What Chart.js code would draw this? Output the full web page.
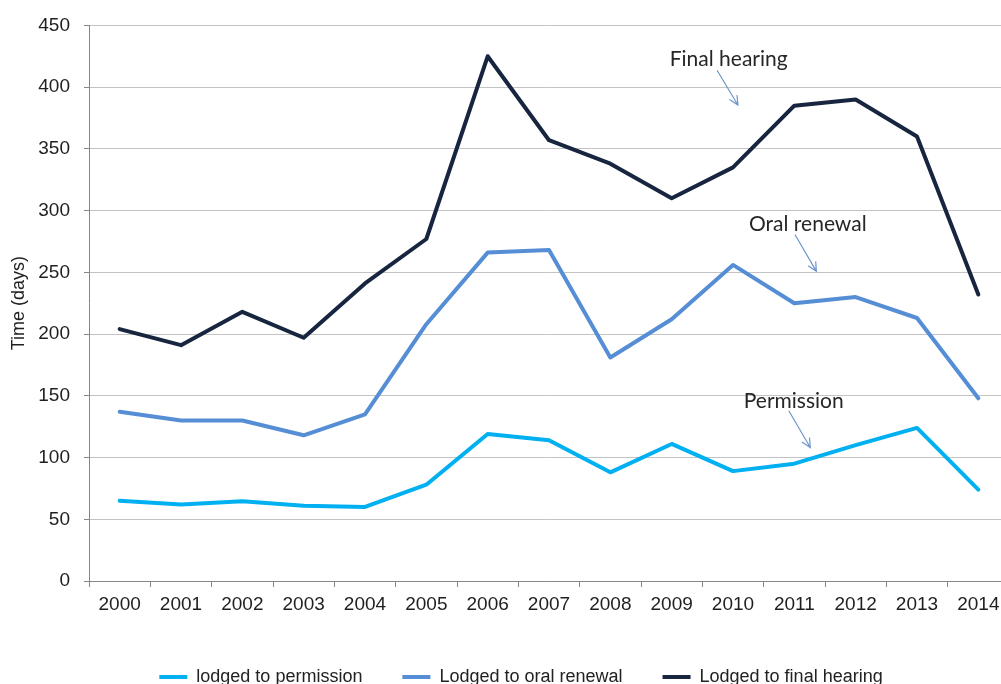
<!DOCTYPE html>
<html>
<head>
<meta charset="utf-8">
<script src="https://cdn.jsdelivr.net/npm/chart.js@4.4.1/dist/chart.umd.min.js"></script>
<style>
  html, body { margin: 0; padding: 0; background: #ffffff; overflow: hidden; }
  #wrap { width: 1015px; height: 700px; }
</style>
</head>
<body>
<div id="wrap"><canvas id="c" width="1015" height="700"></canvas></div>
<script>
// ---- data ----
const categories = ['2000','2001','2002','2003','2004','2005','2006','2007','2008','2009','2010','2011','2012','2013','2014'];
const lodgedToPermission = [65, 62, 64.5, 61, 60, 78, 119, 114, 88, 111, 89, 95, 110, 124, 74];
const lodgedToOralRenewal = [137, 130, 130, 118, 135, 208, 266, 268, 181, 212, 256, 225, 230, 213, 148];
const lodgedToFinalHearing = [204, 191, 218, 197, 241, 277, 425, 357, 338, 310, 335, 385, 390, 360, 232];
const seriesNames = ['lodged to permission', 'Lodged to oral renewal', 'Lodged to final hearing'];
const yTickValues = [0, 50, 100, 150, 200, 250, 300, 350, 400, 450];
const yTitle = 'Time (days)';

// annotation labels (positions in data units: category index, value)
const annLabels = ['Final hearing', 'Oral renewal', 'Permission'];
const annX = [9.93, 11.22, 10.99];
const annY = [422.6, 288.7, 146];
const arrowFromX = [9.74, 11.01, 10.91];
const arrowFromY = [413.7, 280.6, 137.9];
const arrowToX = [10.08, 11.36, 11.26];
const arrowToY = [385.5, 250.8, 108.1];

const colors = ['#00b0f0', '#558ed5', '#17253f'];
const FONT = "'Liberation Sans', Arial, sans-serif";

const annotationPlugin = {
  id: 'annotations',
  afterDatasetsDraw(chart) {
    const {ctx, scales: {x, y}} = chart;
    ctx.save();
    ctx.font = "21px Lato, 'Open Sans', sans-serif";
    ctx.fillStyle = '#262626';
    ctx.textAlign = 'center';
    ctx.textBaseline = 'middle';
    annLabels.forEach((t, i) => {
      ctx.fillText(t, x.getPixelForValue(annX[i]), y.getPixelForValue(annY[i]));
    });
    ctx.strokeStyle = '#6f95cc';
    ctx.lineWidth = 1.2;
    annLabels.forEach((t, i) => {
      const x1 = x.getPixelForValue(arrowFromX[i]), y1 = y.getPixelForValue(arrowFromY[i]);
      const x2 = x.getPixelForValue(arrowToX[i]), y2 = y.getPixelForValue(arrowToY[i]);
      ctx.beginPath();
      ctx.moveTo(x1, y1); ctx.lineTo(x2, y2);
      const a = Math.atan2(y2 - y1, x2 - x1);
      const L = 10, s = 0.45;
      ctx.moveTo(x2 - L * Math.cos(a - s), y2 - L * Math.sin(a - s));
      ctx.lineTo(x2, y2);
      ctx.lineTo(x2 - L * Math.cos(a + s), y2 - L * Math.sin(a + s));
      ctx.stroke();
    });
    ctx.restore();
  }
};

const seriesData = [lodgedToPermission, lodgedToOralRenewal, lodgedToFinalHearing];

new Chart(document.getElementById('c'), {
  type: 'line',
  data: {
    labels: categories,
    datasets: seriesData.map((d, i) => ({
      label: seriesNames[i],
      data: d,
      borderColor: colors[i],
      backgroundColor: colors[i],
      borderWidth: 4,
      pointRadius: 0,
      tension: 0,
      borderCapStyle: 'round',
      borderJoinStyle: 'round',
      fill: false
    }))
  },
  options: {
    responsive: false,
    animation: false,
    devicePixelRatio: 1,
    layout: { padding: { left: 33, right: 6, top: 23, bottom: 4 } },
    plugins: {
      tooltip: { enabled: false },
      legend: {
        position: 'bottom',
        labels: {
          font: { family: FONT, size: 18 },
          color: '#222222',
          boxWidth: 28,
          boxHeight: 4,
          padding: 40,
          generateLabels(chart) {
            const items = Chart.defaults.plugins.legend.labels.generateLabels(chart);
            items.forEach(it => { it.lineWidth = 0; it.fillStyle = it.strokeStyle; });
            return items;
          }
        }
      }
    },
    scales: {
      x: {
        type: 'category',
        offset: true,
        grid: { display: true, drawOnChartArea: false, drawTicks: true, tickLength: 6, tickColor: '#868686', offset: true },
        border: { color: '#868686', width: 1 },
        ticks: { color: '#1f1f1f', font: { family: FONT, size: 19 }, padding: 6, maxRotation: 0, autoSkip: false },
        afterFit(scale) { scale.height = 47; }
      },
      y: {
        min: 0,
        max: 450,
        afterBuildTicks(scale) { scale.ticks = yTickValues.map(v => ({ value: v })); },
        grid: { color: '#c4c4c4', tickColor: '#868686', tickLength: 5, lineWidth: 1 },
        border: { color: '#868686', width: 1 },
        ticks: { color: '#1f1f1f', font: { family: FONT, size: 19 }, padding: 14 },
        title: { display: true, text: yTitle, color: '#222222', font: { family: FONT, size: 18 }, padding: { top: -25, bottom: 0 } },
        afterFit(scale) { scale.width = 56; }
      }
    }
  },
  plugins: [annotationPlugin]
});
</script>
</body>
</html>
